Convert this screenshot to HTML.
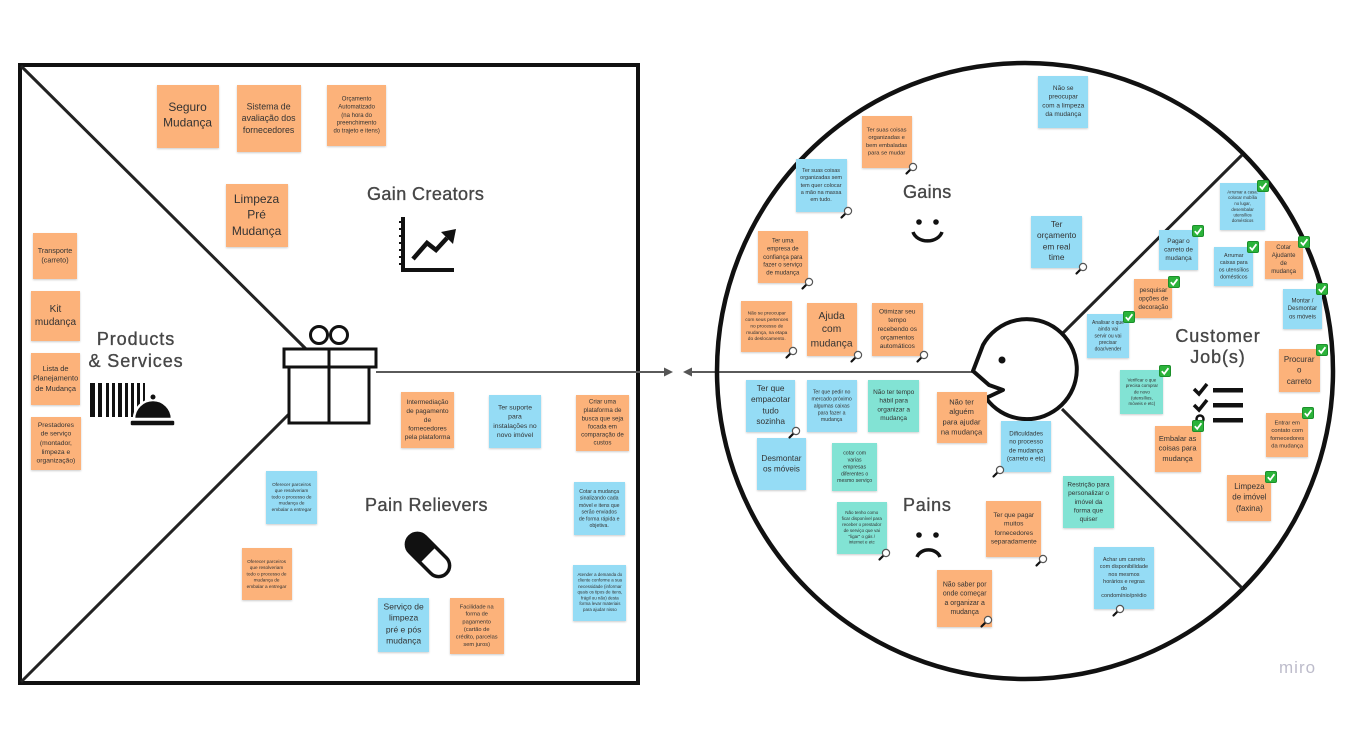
<!DOCTYPE html>
<html><head><meta charset="utf-8">
<style>
html,body{margin:0;padding:0;background:#fff;}
body{width:1353px;height:747px;position:relative;overflow:hidden;font-family:"Liberation Sans",sans-serif;}
.s{position:absolute;display:flex;align-items:center;justify-content:center;box-shadow:0 1px 2px rgba(0,0,0,.2);}
.s span{display:block;font-size:10px;line-height:1.33;text-align:center;white-space:nowrap;color:#333;transform:scale(var(--f));}
.o{background:#fcb27a}.b{background:#95dcf5}.t{background:#82e3d4}
.lab{position:absolute;font-size:18px;line-height:1;color:#474747;white-space:nowrap;-webkit-text-stroke:0.35px #474747;filter:blur(0.3px);}
svg{position:absolute;left:0;top:0;}
</style></head><body>

<svg width="1353" height="747" viewBox="0 0 1353 747">
  <!-- left square -->
  <rect x="20" y="65" width="618" height="618" fill="none" stroke="#111" stroke-width="4"/>
  <line x1="21" y1="66" x2="306" y2="349" stroke="#222" stroke-width="3"/>
  <line x1="21" y1="682" x2="289" y2="414" stroke="#222" stroke-width="3"/>
  <!-- connector -->
  <line x1="376" y1="372" x2="666" y2="372" stroke="#5a5a5a" stroke-width="2"/>
  <polygon points="673,372 664,367.5 664,376.5" fill="#555"/>
  <polygon points="683,372 692,367.5 692,376.5" fill="#555"/>
  <line x1="690" y1="372" x2="976" y2="372" stroke="#5a5a5a" stroke-width="2"/>
  <!-- gift -->
  <g fill="none" stroke="#111" stroke-width="3">
    <rect x="284" y="349" width="92" height="18" fill="#fff"/>
    <rect x="289" y="367" width="80" height="56" fill="#fff"/>
    <line x1="329" y1="349" x2="329" y2="423"/>
    <circle cx="319" cy="335" r="8.5"/>
    <circle cx="339" cy="335" r="8.5"/>
  </g>
  <!-- barcode & bell -->
  <g fill="#111">
    <rect x="90" y="383" width="5" height="34"/>
    <rect x="98" y="383" width="4" height="34"/>
    <rect x="106" y="383" width="3" height="34"/>
    <rect x="112" y="383" width="3" height="34"/>
    <rect x="118" y="383" width="4" height="34"/>
    <rect x="125" y="383" width="3" height="34"/>
    <rect x="131" y="383" width="3" height="34"/>
    <rect x="137" y="383" width="3" height="34"/>
    <rect x="143" y="383" width="2" height="34"/>
  </g>
  <path d="M134,419 A19,19 0 0 1 172,419 Z" fill="#111" stroke="#fff" stroke-width="2.5"/>
  <circle cx="153" cy="397" r="2.5" fill="#111"/>
  <rect x="130" y="420" width="45" height="6" rx="2" fill="#111" stroke="#fff" stroke-width="1.5"/>
  <!-- chart icon -->
  <g stroke="#111" fill="none">
    <path d="M403,217 L403,270 L454,270" stroke-width="4"/>
    <path d="M399,222 h4 M399,229 h4 M399,236 h4 M399,243 h4 M399,250 h4 M399,257 h4 M399,264 h4" stroke-width="2"/>
    <polyline points="413,259 427,243 436,250 447,238" stroke-width="4.5"/>
  </g>
  <polygon points="456,229 441,232 453,244" fill="#111"/>
  <!-- pill -->
  <g transform="rotate(45 428 555)">
    <rect x="402" y="544" width="52" height="22" rx="11" fill="#fff" stroke="#111" stroke-width="3.5"/>
    <path d="M428,542.5 L413,542.5 A12.5,12.5 0 0 0 413,567.5 L428,567.5 Z" fill="#111"/>
  </g>

  <!-- big circle -->
  <circle cx="1025" cy="371" r="308" fill="none" stroke="#111" stroke-width="4.5"/>
  <line x1="1062" y1="334" x2="1242" y2="155" stroke="#222" stroke-width="3"/>
  <line x1="1062" y1="409" x2="1242" y2="588" stroke="#222" stroke-width="3"/>
  <!-- face -->
  <path d="M986,398 A50,50 0 1 0 983,345 L973,371 L989,385 L1003,390 L986,398" fill="#fff" stroke="#111" stroke-width="4" stroke-linejoin="round"/>
  <circle cx="1002" cy="360" r="3.5" fill="#111"/>
  <!-- smiley -->
  <circle cx="919" cy="222" r="2.8" fill="#111"/>
  <circle cx="936" cy="222" r="2.8" fill="#111"/>
  <path d="M913,232 A15,12 0 0 0 942,232" fill="none" stroke="#111" stroke-width="3.5"/>
  <!-- frown -->
  <circle cx="919" cy="535" r="2.8" fill="#111"/>
  <circle cx="936" cy="535" r="2.8" fill="#111"/>
  <path d="M917,557 A12,10 0 0 1 940,557" fill="none" stroke="#111" stroke-width="3.5"/>
  <!-- checklist -->
  <g stroke="#111" fill="none" stroke-width="3.5">
    <path d="M1194,389 L1199,394 L1207,384"/>
    <path d="M1194,405 L1199,410 L1207,400"/>
    <circle cx="1200" cy="419" r="3.5" stroke-width="2.5"/>
  </g>
  <rect x="1213" y="388" width="30" height="4.5" fill="#111"/>
  <rect x="1213" y="403" width="30" height="4.5" fill="#111"/>
  <rect x="1213" y="418" width="30" height="4.5" fill="#111"/>
</svg>

<div class="lab" style="left:367px;top:185px;letter-spacing:0.4px;">Gain Creators</div>
<div class="lab" style="left:86px;top:328px;width:100px;text-align:center;line-height:22px;letter-spacing:0.9px;">Products<br>&amp; Services</div>
<div class="lab" style="left:365px;top:496px;letter-spacing:0.5px;">Pain Relievers</div>
<div class="lab" style="left:903px;top:183px;letter-spacing:0.3px;">Gains</div>
<div class="lab" style="left:903px;top:496px;letter-spacing:0.7px;">Pains</div>
<div class="lab" style="left:1168px;top:326px;width:100px;text-align:center;line-height:21px;letter-spacing:0.9px;">Customer<br>Job(s)</div>
<div style="position:absolute;left:1279px;top:658px;font-size:17px;color:#bdbccb;letter-spacing:1px;">miro</div>

<!-- left square stickies -->
<div class="s o" style="left:157px;top:85px;width:62px;height:63px;--f:1.19"><span>Seguro<br>Mudança</span></div>
<div class="s o" style="left:237px;top:85px;width:64px;height:67px;--f:0.88"><span>Sistema de<br>avaliação dos<br>fornecedores</span></div>
<div class="s o" style="left:327px;top:85px;width:59px;height:61px;--f:0.6"><span>Orçamento<br>Automatizado<br>(na hora do<br>preenchimento<br>do trajeto e itens)</span></div>
<div class="s o" style="left:226px;top:184px;width:62px;height:63px;--f:1.2"><span>Limpeza<br>Pré<br>Mudança</span></div>
<div class="s o" style="left:33px;top:233px;width:44px;height:46px;--f:0.72"><span>Transporte<br>(carreto)</span></div>
<div class="s o" style="left:31px;top:291px;width:49px;height:50px;--f:1.0"><span>Kit<br>mudança</span></div>
<div class="s o" style="left:31px;top:353px;width:49px;height:52px;--f:0.74"><span>Lista de<br>Planejamento<br>de Mudança</span></div>
<div class="s o" style="left:31px;top:417px;width:50px;height:53px;--f:0.67"><span>Prestadores<br>de serviço<br>(montador,<br>limpeza e<br>organização)</span></div>
<div class="s o" style="left:401px;top:392px;width:53px;height:56px;--f:0.66"><span>Intermediação<br>de pagamento<br>de<br>fornecedores<br>pela plataforma</span></div>
<div class="s b" style="left:489px;top:395px;width:52px;height:53px;--f:0.68"><span>Ter suporte<br>para<br>instalações no<br>novo imóvel</span></div>
<div class="s o" style="left:576px;top:395px;width:53px;height:56px;--f:0.62"><span>Criar uma<br>plataforma de<br>busca que seja<br>focada em<br>comparação de<br>custos</span></div>
<div class="s b" style="left:266px;top:471px;width:51px;height:53px;--f:0.47"><span>Oferecer parceiros<br>que resolveriam<br>todo o processo de<br>mudança de<br>embalar a entregar</span></div>
<div class="s b" style="left:574px;top:482px;width:51px;height:53px;--f:0.52"><span>Cotar a mudança<br>sinalizando cada<br>móvel e itens que<br>serão enviados<br>de forma rápida e<br>objetiva.</span></div>
<div class="s o" style="left:242px;top:548px;width:50px;height:52px;--f:0.47"><span>Oferecer parceiros<br>que resolveriam<br>todo o processo de<br>mudança de<br>embalar a entregar</span></div>
<div class="s b" style="left:573px;top:565px;width:53px;height:56px;--f:0.44"><span>Atender a demanda do<br>cliente conforme a sua<br>necessidade (informar<br>quais os tipos de itens,<br>frágil ou não) desta<br>forma levar materiais<br>para ajudar nisso</span></div>
<div class="s b" style="left:378px;top:598px;width:51px;height:54px;--f:0.85"><span>Serviço de<br>limpeza<br>pré e pós<br>mudança</span></div>
<div class="s o" style="left:450px;top:598px;width:54px;height:56px;--f:0.57"><span>Facilidade na<br>forma de<br>pagamento<br>(cartão de<br>crédito, parcelas<br>sem juros)</span></div>

<!-- gains -->
<div class="s b" style="left:1038px;top:76px;width:50px;height:52px;--f:0.65"><span>Não se<br>preocupar<br>com a limpeza<br>da mudança</span></div>
<div class="s o" style="left:862px;top:116px;width:50px;height:52px;--f:0.58"><span>Ter suas coisas<br>organizadas e<br>bem embaladas<br>para se mudar</span></div>
<div class="s b" style="left:796px;top:159px;width:51px;height:53px;--f:0.55"><span>Ter suas coisas<br>organizadas sem<br>tem quer colocar<br>a mão na massa<br>em tudo.</span></div>
<div class="s o" style="left:758px;top:231px;width:50px;height:52px;--f:0.6"><span>Ter uma<br>empresa de<br>confiança para<br>fazer o serviço<br>de mudança</span></div>
<div class="s b" style="left:1031px;top:216px;width:51px;height:52px;--f:0.83"><span>Ter<br>orçamento<br>em real<br>time</span></div>
<div class="s o" style="left:741px;top:301px;width:51px;height:51px;--f:0.48"><span>Não se preocupar<br>com seus pertences<br>no processo de<br>mudança, na etapa<br>do deslocamento.</span></div>
<div class="s o" style="left:807px;top:303px;width:50px;height:53px;--f:1.02"><span>Ajuda<br>com<br>mudança</span></div>
<div class="s o" style="left:872px;top:303px;width:51px;height:53px;--f:0.65"><span>Otimizar seu<br>tempo<br>recebendo os<br>orçamentos<br>automáticos</span></div>

<!-- customer jobs -->
<div class="s b" style="left:1220px;top:183px;width:45px;height:47px;--f:0.43"><span>Arrumar a casa:<br>colocar mobília<br>no lugar,<br>desembalar<br>utensílios<br>domésticos</span></div>
<div class="s b" style="left:1159px;top:230px;width:39px;height:40px;--f:0.64"><span>Pagar o<br>carreto de<br>mudança</span></div>
<div class="s b" style="left:1214px;top:247px;width:39px;height:39px;--f:0.54"><span>Arrumar<br>caixas para<br>os utensílios<br>domésticos</span></div>
<div class="s o" style="left:1265px;top:241px;width:38px;height:38px;--f:0.6"><span>Cotar<br>Ajudante<br>de<br>mudança</span></div>
<div class="s o" style="left:1134px;top:279px;width:38px;height:39px;--f:0.64"><span>pesquisar<br>opções de<br>decoração</span></div>
<div class="s b" style="left:1283px;top:289px;width:39px;height:40px;--f:0.6"><span>Montar /<br>Desmontar<br>os móveis</span></div>
<div class="s b" style="left:1087px;top:314px;width:42px;height:44px;--f:0.5"><span>Analisar o que<br>ainda vai<br>servir ou vai<br>precisar<br>doar/vender</span></div>
<div class="s o" style="left:1279px;top:349px;width:41px;height:43px;--f:0.8"><span>Procurar<br>o<br>carreto</span></div>
<div class="s t" style="left:1120px;top:370px;width:43px;height:44px;--f:0.45"><span>Verificar o que<br>precisa comprar<br>de novo<br>(utensílios,<br>móveis e etc)</span></div>
<div class="s o" style="left:1155px;top:426px;width:46px;height:46px;--f:0.74"><span>Embalar as<br>coisas para<br>mudança</span></div>
<div class="s o" style="left:1266px;top:413px;width:42px;height:44px;--f:0.58"><span>Entrar em<br>contato com<br>fornecedores<br>da mudança</span></div>
<div class="s o" style="left:1227px;top:475px;width:44px;height:46px;--f:0.8"><span>Limpeza<br>de imóvel<br>(faxina)</span></div>

<!-- pains -->
<div class="s b" style="left:746px;top:380px;width:49px;height:52px;--f:0.83"><span>Ter que<br>empacotar<br>tudo<br>sozinha</span></div>
<div class="s b" style="left:807px;top:380px;width:50px;height:52px;--f:0.52"><span>Ter que pedir no<br>mercado próximo<br>algumas caixas<br>para fazer a<br>mudança</span></div>
<div class="s t" style="left:868px;top:380px;width:51px;height:52px;--f:0.65"><span>Não ter tempo<br>hábil para<br>organizar a<br>mudança</span></div>
<div class="s o" style="left:937px;top:392px;width:50px;height:51px;--f:0.75"><span>Não ter<br>alguém<br>para ajudar<br>na mudança</span></div>
<div class="s b" style="left:757px;top:438px;width:49px;height:52px;--f:0.82"><span>Desmontar<br>os móveis</span></div>
<div class="s t" style="left:832px;top:443px;width:45px;height:48px;--f:0.52"><span>cotar com<br>varias<br>empresas<br>diferentes o<br>mesmo serviço</span></div>
<div class="s b" style="left:1001px;top:421px;width:50px;height:51px;--f:0.62"><span>Dificuldades<br>no processo<br>de mudança<br>(carreto e etc)</span></div>
<div class="s t" style="left:1063px;top:476px;width:51px;height:52px;--f:0.65"><span>Restrição para<br>personalizar o<br>imóvel da<br>forma que<br>quiser</span></div>
<div class="s t" style="left:837px;top:502px;width:50px;height:52px;--f:0.45"><span>Não tenho como<br>ficar disponível para<br>receber o prestador<br>de serviço que vai<br>"ligar" o gás /<br>internet e etc</span></div>
<div class="s o" style="left:986px;top:501px;width:55px;height:56px;--f:0.66"><span>Ter que pagar<br>muitos<br>fornecedores<br>separadamente</span></div>
<div class="s o" style="left:937px;top:570px;width:55px;height:57px;--f:0.69"><span>Não saber por<br>onde começar<br>a organizar a<br>mudança</span></div>
<div class="s b" style="left:1094px;top:547px;width:60px;height:62px;--f:0.55"><span>Achar um carreto<br>com disponibilidade<br>nos mesmos<br>horários e regras<br>do<br>condomínio/prédio</span></div>

<!-- overlay: magnifiers and checks -->
<svg width="1353" height="747" viewBox="0 0 1353 747">
  <g stroke-linecap="round">
    <g transform="translate(913,167)"><line x1="-2.5" y1="2.5" x2="-6.5" y2="6.5" stroke="#111" stroke-width="2.2"/><circle r="3.6" fill="#fff" stroke="#555" stroke-width="1.2"/></g>
    <g transform="translate(848,211)"><line x1="-2.5" y1="2.5" x2="-6.5" y2="6.5" stroke="#111" stroke-width="2.2"/><circle r="3.6" fill="#fff" stroke="#555" stroke-width="1.2"/></g>
    <g transform="translate(809,282)"><line x1="-2.5" y1="2.5" x2="-6.5" y2="6.5" stroke="#111" stroke-width="2.2"/><circle r="3.6" fill="#fff" stroke="#555" stroke-width="1.2"/></g>
    <g transform="translate(1083,267)"><line x1="-2.5" y1="2.5" x2="-6.5" y2="6.5" stroke="#111" stroke-width="2.2"/><circle r="3.6" fill="#fff" stroke="#555" stroke-width="1.2"/></g>
    <g transform="translate(793,351)"><line x1="-2.5" y1="2.5" x2="-6.5" y2="6.5" stroke="#111" stroke-width="2.2"/><circle r="3.6" fill="#fff" stroke="#555" stroke-width="1.2"/></g>
    <g transform="translate(858,355)"><line x1="-2.5" y1="2.5" x2="-6.5" y2="6.5" stroke="#111" stroke-width="2.2"/><circle r="3.6" fill="#fff" stroke="#555" stroke-width="1.2"/></g>
    <g transform="translate(924,355)"><line x1="-2.5" y1="2.5" x2="-6.5" y2="6.5" stroke="#111" stroke-width="2.2"/><circle r="3.6" fill="#fff" stroke="#555" stroke-width="1.2"/></g>
    <g transform="translate(796,431)"><line x1="-2.5" y1="2.5" x2="-6.5" y2="6.5" stroke="#111" stroke-width="2.2"/><circle r="3.6" fill="#fff" stroke="#555" stroke-width="1.2"/></g>
    <g transform="translate(1000,470)"><line x1="-2.5" y1="2.5" x2="-6.5" y2="6.5" stroke="#111" stroke-width="2.2"/><circle r="3.6" fill="#fff" stroke="#555" stroke-width="1.2"/></g>
    <g transform="translate(886,553)"><line x1="-2.5" y1="2.5" x2="-6.5" y2="6.5" stroke="#111" stroke-width="2.2"/><circle r="3.6" fill="#fff" stroke="#555" stroke-width="1.2"/></g>
    <g transform="translate(1043,559)"><line x1="-2.5" y1="2.5" x2="-6.5" y2="6.5" stroke="#111" stroke-width="2.2"/><circle r="3.6" fill="#fff" stroke="#555" stroke-width="1.2"/></g>
    <g transform="translate(988,620)"><line x1="-2.5" y1="2.5" x2="-6.5" y2="6.5" stroke="#111" stroke-width="2.2"/><circle r="3.6" fill="#fff" stroke="#555" stroke-width="1.2"/></g>
    <g transform="translate(1120,609)"><line x1="-2.5" y1="2.5" x2="-6.5" y2="6.5" stroke="#111" stroke-width="2.2"/><circle r="3.6" fill="#fff" stroke="#555" stroke-width="1.2"/></g>
  </g>
  <g>
    <g transform="translate(1263,186)"><rect x="-5.5" y="-5.5" width="11" height="11" rx="1.5" fill="#2bb33a" stroke="#1b8f2a"/><path d="M-3.2,0.2 L-0.8,2.8 L3.4,-2.8" stroke="#fff" stroke-width="1.8" fill="none"/></g>
    <g transform="translate(1198,231)"><rect x="-5.5" y="-5.5" width="11" height="11" rx="1.5" fill="#2bb33a" stroke="#1b8f2a"/><path d="M-3.2,0.2 L-0.8,2.8 L3.4,-2.8" stroke="#fff" stroke-width="1.8" fill="none"/></g>
    <g transform="translate(1253,247)"><rect x="-5.5" y="-5.5" width="11" height="11" rx="1.5" fill="#2bb33a" stroke="#1b8f2a"/><path d="M-3.2,0.2 L-0.8,2.8 L3.4,-2.8" stroke="#fff" stroke-width="1.8" fill="none"/></g>
    <g transform="translate(1304,242)"><rect x="-5.5" y="-5.5" width="11" height="11" rx="1.5" fill="#2bb33a" stroke="#1b8f2a"/><path d="M-3.2,0.2 L-0.8,2.8 L3.4,-2.8" stroke="#fff" stroke-width="1.8" fill="none"/></g>
    <g transform="translate(1174,282)"><rect x="-5.5" y="-5.5" width="11" height="11" rx="1.5" fill="#2bb33a" stroke="#1b8f2a"/><path d="M-3.2,0.2 L-0.8,2.8 L3.4,-2.8" stroke="#fff" stroke-width="1.8" fill="none"/></g>
    <g transform="translate(1322,289)"><rect x="-5.5" y="-5.5" width="11" height="11" rx="1.5" fill="#2bb33a" stroke="#1b8f2a"/><path d="M-3.2,0.2 L-0.8,2.8 L3.4,-2.8" stroke="#fff" stroke-width="1.8" fill="none"/></g>
    <g transform="translate(1129,317)"><rect x="-5.5" y="-5.5" width="11" height="11" rx="1.5" fill="#2bb33a" stroke="#1b8f2a"/><path d="M-3.2,0.2 L-0.8,2.8 L3.4,-2.8" stroke="#fff" stroke-width="1.8" fill="none"/></g>
    <g transform="translate(1322,350)"><rect x="-5.5" y="-5.5" width="11" height="11" rx="1.5" fill="#2bb33a" stroke="#1b8f2a"/><path d="M-3.2,0.2 L-0.8,2.8 L3.4,-2.8" stroke="#fff" stroke-width="1.8" fill="none"/></g>
    <g transform="translate(1165,371)"><rect x="-5.5" y="-5.5" width="11" height="11" rx="1.5" fill="#2bb33a" stroke="#1b8f2a"/><path d="M-3.2,0.2 L-0.8,2.8 L3.4,-2.8" stroke="#fff" stroke-width="1.8" fill="none"/></g>
    <g transform="translate(1198,426)"><rect x="-5.5" y="-5.5" width="11" height="11" rx="1.5" fill="#2bb33a" stroke="#1b8f2a"/><path d="M-3.2,0.2 L-0.8,2.8 L3.4,-2.8" stroke="#fff" stroke-width="1.8" fill="none"/></g>
    <g transform="translate(1308,413)"><rect x="-5.5" y="-5.5" width="11" height="11" rx="1.5" fill="#2bb33a" stroke="#1b8f2a"/><path d="M-3.2,0.2 L-0.8,2.8 L3.4,-2.8" stroke="#fff" stroke-width="1.8" fill="none"/></g>
    <g transform="translate(1271,477)"><rect x="-5.5" y="-5.5" width="11" height="11" rx="1.5" fill="#2bb33a" stroke="#1b8f2a"/><path d="M-3.2,0.2 L-0.8,2.8 L3.4,-2.8" stroke="#fff" stroke-width="1.8" fill="none"/></g>
  </g>
</svg>
</body></html>
